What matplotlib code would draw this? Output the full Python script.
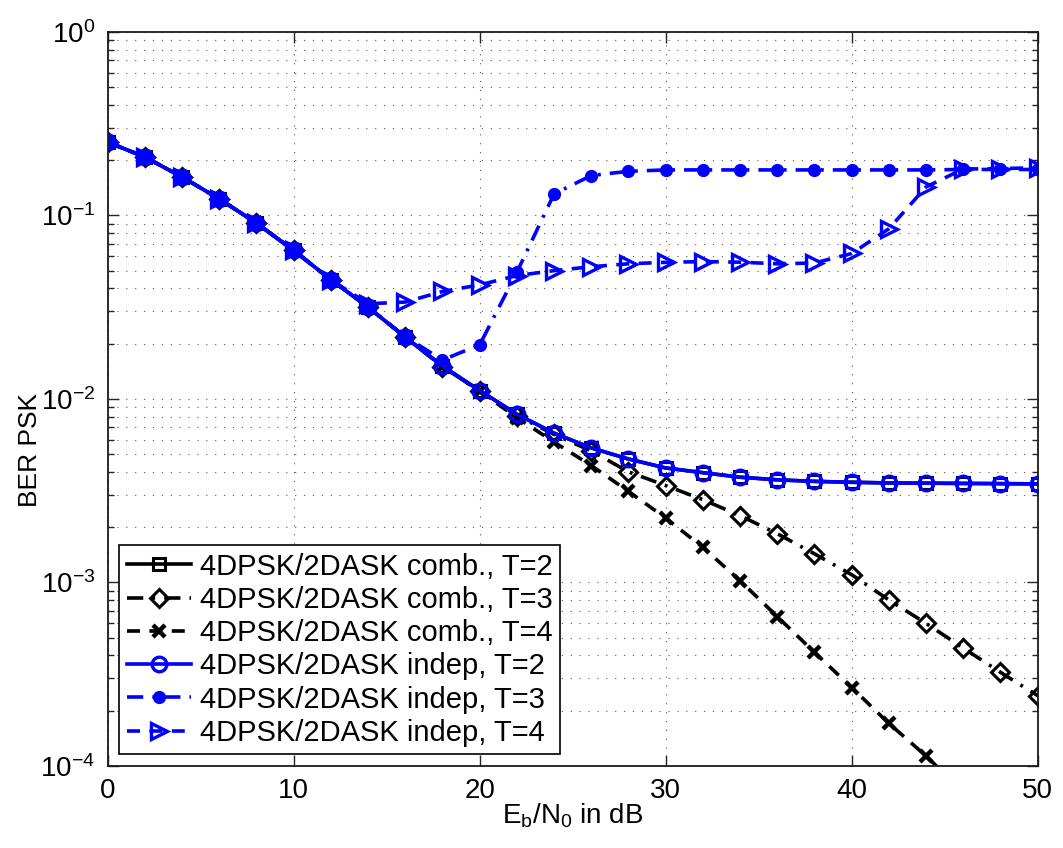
import numpy as np
import matplotlib
matplotlib.use('Agg')
import matplotlib.pyplot as plt
from matplotlib.ticker import LogLocator, NullFormatter, NullLocator

plt.rcParams['font.family'] = ['Liberation Sans', 'DejaVu Sans']
plt.rcParams['mathtext.fontset'] = 'custom'
plt.rcParams['mathtext.rm'] = 'Liberation Sans'
plt.rcParams['mathtext.it'] = 'Liberation Sans:italic'
plt.rcParams['mathtext.default'] = 'regular'

# Eb/N0 in dB
snr = [0, 2, 4, 6, 8, 10, 12, 14, 16, 18, 20, 22, 24, 26, 28, 30, 32, 34, 36, 38, 40, 42, 44, 46, 48, 50]

# BER values
comb_t2 = [0.251, 0.208, 0.162, 0.123, 0.0908, 0.0644, 0.0446, 0.0316, 0.0217, 0.0151, 0.0111,
           0.00825, 0.0065, 0.0054, 0.0047, 0.0042, 0.00396, 0.00374, 0.00362, 0.00355, 0.00351,
           0.00348, 0.00347, 0.00346, 0.00345, 0.00344]
comb_t3 = [0.251, 0.208, 0.162, 0.123, 0.0908, 0.0644, 0.0446, 0.0316, 0.0217, 0.0150, 0.0110,
           0.0081, 0.0064, 0.0052, 0.0040, 0.00337, 0.00282, 0.00231, 0.00184, 0.00143, 0.00110,
           0.000801, 0.000597, 0.000438, 0.000323, 0.000241]
comb_t4 = [0.251, 0.208, 0.162, 0.123, 0.0908, 0.0644, 0.0446, 0.0316, 0.0217, 0.0150, 0.0110,
           0.0079, 0.00581, 0.00433, 0.00313, 0.00224, 0.00155, 0.00102, 0.00065, 0.000415, 0.000267,
           0.00017, 0.000113, 7.2e-05, 4.6e-05, 2.9e-05]
indep_t2 = [0.251, 0.208, 0.162, 0.123, 0.0908, 0.0644, 0.0446, 0.0316, 0.0217, 0.0151, 0.0111,
            0.00825, 0.0065, 0.0054, 0.0047, 0.0042, 0.00396, 0.00374, 0.00362, 0.00355, 0.00351,
            0.00348, 0.00347, 0.00346, 0.00345, 0.00344]
indep_t3 = [0.251, 0.208, 0.162, 0.123, 0.0908, 0.0644, 0.0446, 0.0316, 0.0218, 0.0163, 0.0197,
            0.049, 0.131, 0.165, 0.174, 0.177, 0.177, 0.177, 0.177, 0.177, 0.177,
            0.177, 0.177, 0.178, 0.178, 0.178]
indep_t4 = [0.251, 0.208, 0.162, 0.123, 0.0908, 0.0644, 0.0446, 0.0330, 0.0337, 0.0385, 0.0418,
            0.047, 0.050, 0.0525, 0.0545, 0.0555, 0.056, 0.0556, 0.0545, 0.055, 0.062,
            0.0846, 0.143, 0.179, 0.180, 0.182]

labels = ['4DPSK/2DASK comb., T=2', '4DPSK/2DASK comb., T=3', '4DPSK/2DASK comb., T=4',
          '4DPSK/2DASK indep, T=2', '4DPSK/2DASK indep, T=3', '4DPSK/2DASK indep, T=4']

fig = plt.figure(figsize=(10.63, 8.48), dpi=100)
ax = fig.add_axes([0.1013, 0.0970, 0.8749, 0.8653])

lw = 2.6
dashdot = (0, (4.5, 2.5, 0.8, 2.5))
dashed = (0, (3.6, 2.6))

ax.plot(snr, comb_t2, color='k', lw=lw, ls='-', marker='s', ms=8, mfc='none', mew=2.2, label=labels[0])
ax.plot(snr, comb_t3, color='k', lw=lw, ls=dashdot, marker='D', ms=9.5, mfc='none', mew=2.2, label=labels[1])
ax.plot(snr, comb_t4, color='k', lw=lw, ls=dashed, marker='x', ms=8, mew=3.2, label=labels[2])
ax.plot(snr, indep_t2, color='#0000ff', lw=lw, ls='-', marker='o', ms=10.5, mfc='none', mew=2.4, label=labels[3])
ax.plot(snr, indep_t3, color='#0000ff', lw=lw, ls=dashdot, marker='o', ms=8.5, mfc='#0000ff', mew=1, label=labels[4])
ax.plot(snr, indep_t4, color='#0000ff', lw=lw, ls=dashed, marker='>', ms=12, mfc='none', mew=2.4, label=labels[5])

ax.set_yscale('log')
ax.set_xlim(0, 50)
ax.set_ylim(1e-4, 1e0)
ax.set_xticks([0, 10, 20, 30, 40, 50])
ax.xaxis.set_minor_locator(NullLocator())
ax.yaxis.set_major_locator(LogLocator(base=10, numticks=10))
ax.yaxis.set_minor_locator(LogLocator(base=10, subs=np.arange(2, 10), numticks=20))
ax.yaxis.set_minor_formatter(NullFormatter())

ax.grid(True, which='major', color='0.35', ls=(0, (1, 7)), lw=0.8)
ax.grid(True, which='minor', axis='y', color='0.35', ls=(0, (1, 7)), lw=0.8)

ax.tick_params(which='both', direction='in', top=True, right=True, labelsize=20, width=1, colors='0.15')
ax.tick_params(which='major', length=8, pad=9)
ax.tick_params(which='minor', length=4)
ax.tick_params(labelcolor='k')
for s in ax.spines.values():
    s.set_linewidth(1.3)
    s.set_color('0.1')

ax.set_xlabel(r'E$_b$/N$_0$ in dB', fontsize=20)
ax.xaxis.set_label_coords(0.5, -0.049)
ax.set_ylabel('BER PSK', fontsize=19)
ax.yaxis.set_label_coords(-0.071, 0.43)

leg = ax.legend(loc='lower left', fontsize=21, fancybox=False, framealpha=1, edgecolor='k',
                handlelength=2.2, handletextpad=0.3, borderpad=0.25, labelspacing=0.18,
                borderaxespad=0.4)
leg.get_frame().set_linewidth(1.2)

fig.savefig('out.png', dpi=100)
